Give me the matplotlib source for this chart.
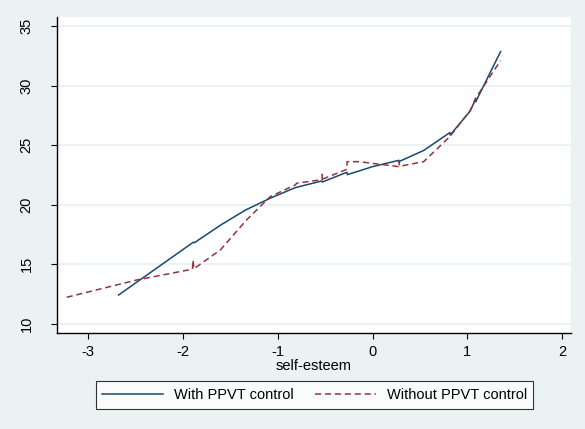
import matplotlib
matplotlib.use("Agg")
import matplotlib.pyplot as plt

# data (self-esteem vs predicted score)
with_x = [-2.68, -1.89, -1.88, -1.60, -1.34, -1.08, -0.815, -0.533, -0.53,
          -0.27, -0.265, 0.0, 0.277, 0.28, 0.54, 0.816, 0.82, 1.03, 1.088,
          1.09, 1.352]
with_y = [12.41, 16.85, 16.80, 18.30, 19.55, 20.54, 21.43, 21.99, 21.90,
          22.72, 22.52, 23.19, 23.72, 23.62, 24.55, 26.05, 25.85, 27.85, 28.85,
          28.65, 32.86]

without_x = [-3.228, -2.49, -1.90, -1.895, -1.885, -1.607, -1.33, -1.08,
             -0.815, -0.80, -0.533, -0.53, -0.525, -0.27, -0.268, -0.14,
             0.277, 0.28, 0.285, 0.54, 0.816, 1.035, 1.088, 1.352]
without_y = [12.22, 13.67, 14.58, 15.35, 14.62, 16.19, 18.71, 20.67,
             21.66, 21.80, 22.10, 22.55, 22.15, 22.97, 23.61, 23.61,
             23.19, 23.65, 23.22, 23.61, 25.71, 27.96, 28.94, 32.10]

labels = ["With PPVT control", "Without PPVT control"]
xticks = [-3, -2, -1, 0, 1, 2]
yticks = [10, 15, 20, 25, 30, 35]

bg = "#EAF2F3"
blue = "#1a476f"
red = "#90353b"

plt.rcParams["font.family"] = ["Liberation Sans", "DejaVu Sans"]

fig = plt.figure(figsize=(5.85, 4.29), dpi=100, facecolor=bg)
ax = fig.add_axes([57 / 585, 1 - 333 / 429, 514 / 585, 316 / 429])
ax.set_facecolor("white")

ax.plot(with_x, with_y, color=blue, lw=1.1, label=labels[0])
ax.plot(without_x, without_y, color=red, lw=1.1, dashes=(4, 2.5), label=labels[1])

ax.set_xlim(-3.33, 2.095)
ax.set_ylim(9.22, 35.76)
ax.set_xticks(xticks)
ax.set_yticks(yticks)
ax.set_xticklabels([str(t) for t in xticks])
ax.set_yticklabels([str(t) for t in yticks], rotation=90, va="center")

for y in yticks:
    ax.axhline(y, color=bg, lw=1.5, zorder=0)

for s in ["top", "right"]:
    ax.spines[s].set_visible(False)
for s in ["left", "bottom"]:
    ax.spines[s].set_color("black")
    ax.spines[s].set_linewidth(1.0)

ax.tick_params(axis="y", length=4, width=0.8, pad=13, labelsize=10.5, colors="black")
ax.tick_params(axis="x", length=4, width=0.8, pad=5, labelsize=10.5, colors="black")
ax.set_xlabel("self-esteem", fontsize=10.5, labelpad=0)

leg = fig.legend(loc="center", bbox_to_anchor=(314.5 / 585, 1 - 395 / 429),
                 ncol=2, frameon=True, fancybox=False, fontsize=10.5,
                 handlelength=4.2, columnspacing=1.5, borderpad=0.45,
                 handletextpad=0.7)
leg.get_frame().set_edgecolor("black")
leg.get_frame().set_linewidth(0.8)

fig.savefig("out.png", dpi=100, facecolor=bg)
